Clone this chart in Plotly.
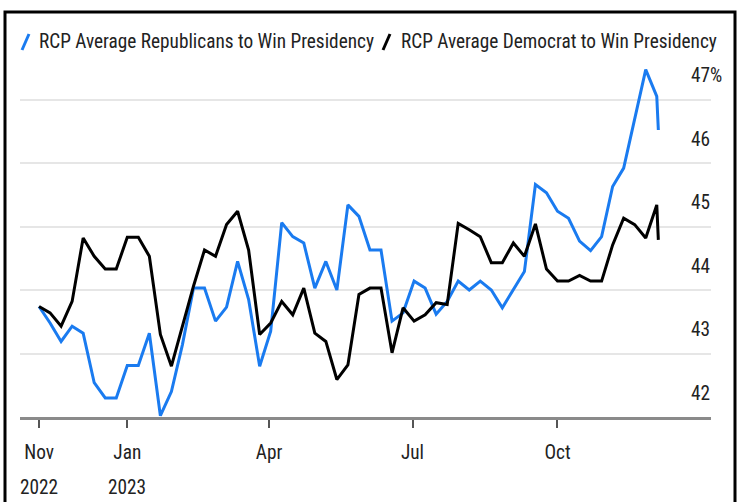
import pandas as pd
import plotly.graph_objects as go

# ---------------- data ----------------
dates = list(pd.date_range("2022-11-06", periods=57, freq="7D")) + [pd.Timestamp("2023-12-04")]

rep = [43.74, 43.48, 43.19, 43.43, 43.32, 42.54, 42.30, 42.30, 42.81, 42.81,
       43.32, 42.02, 42.40, 43.14, 44.03, 44.03, 43.51, 43.73, 44.45, 43.85,
       42.80, 43.35, 45.06, 44.84, 44.74, 44.03, 44.45, 44.00, 45.34, 45.16,
       44.63, 44.63, 43.51, 43.64, 44.14, 44.03, 43.62, 43.82, 44.14, 44.00,
       44.14, 44.00, 43.72, 44.00, 44.29, 45.66, 45.53, 45.24, 45.13, 44.77,
       44.62, 44.84, 45.63, 45.92, 46.68, 47.47, 47.05, 46.52]

dem = [43.74, 43.64, 43.43, 43.82, 44.82, 44.53, 44.33, 44.33, 44.83, 44.83,
       44.53, 43.30, 42.80, 43.43, 44.06, 44.63, 44.53, 45.03, 45.24, 44.63,
       43.30, 43.48, 43.82, 43.61, 44.03, 43.32, 43.19, 42.59, 42.82, 43.93,
       44.03, 44.03, 43.01, 43.72, 43.51, 43.61, 43.80, 43.77, 45.05, 44.95,
       44.84, 44.43, 44.43, 44.74, 44.53, 45.04, 44.33, 44.14, 44.14, 44.23,
       44.14, 44.14, 44.71, 45.13, 45.03, 44.82, 45.34, 44.79]

series_names = ["RCP Average Republicans to Win Presidency",
                "RCP Average Democrat to Win Presidency"]
series_colors = ["#1a7bf0", "#000000"]

x_tick_vals = ["2022-11-06", "2023-01-01", "2023-04-01", "2023-07-01", "2023-10-01"]
x_tick_text = ["Nov", "Jan", "Apr", "Jul", "Oct"]
year_tick_vals = ["2022-11-06", "2023-01-01"]
year_tick_text = ["2022", "2023"]

y_tick_vals = [42, 43, 44, 45, 46, 47]
y_tick_text = ["42", "43", "44", "45", "46", "47%"]

# ---------------- layout helpers ----------------
FW, FH = 738, 502
L, R, T, B = 20, 27, 60, 85
W, H = FW - L - R, FH - T - B
FONT = "Liberation Sans Narrow, Arial Narrow, Roboto Condensed, Roboto, sans-serif"
FS = 19.3
TXT = "#222222"


def px(x):
    return (x - L) / W


def py(y):
    return 1 - (y - T) / H


fig = go.Figure()
for vals, name, col in [(rep, series_names[0], series_colors[0]),
                        (dem, series_names[1], series_colors[1])]:
    fig.add_trace(go.Scatter(x=dates, y=vals, mode="lines", name=name,
                             line=dict(color=col, width=3), showlegend=False))

# custom legend (slash marks + text)
legend_pos = [(22, 37), (383, 399)]
for (sx, tx), name, col in zip(legend_pos, series_names, series_colors):
    fig.add_shape(type="line", xref="paper", yref="paper",
                  x0=px(sx), y0=py(50), x1=px(sx + 7), y1=py(34),
                  line=dict(color=col, width=3))
    fig.add_annotation(xref="paper", yref="paper", x=px(tx), y=py(42),
                       text=name, showarrow=False, xanchor="left", yanchor="middle",
                       font=dict(family=FONT, size=FS, color=TXT))

# year labels under the month ticks
for xv, yt in zip(year_tick_vals, year_tick_text):
    fig.add_annotation(xref="x", yref="paper", x=xv, y=py(487), text=yt,
                       showarrow=False, xanchor="center", yanchor="middle",
                       font=dict(family=FONT, size=FS, color=TXT))

# outer frame
fig.add_shape(type="rect", xref="paper", yref="paper",
              x0=px(5), y0=py(12), x1=px(735), y1=py(520),
              line=dict(color="black", width=3), layer="above")

fig.update_layout(
    width=FW, height=FH,
    margin=dict(l=L, r=R, t=T, b=B),
    paper_bgcolor="white", plot_bgcolor="white",
    showlegend=False,
    font=dict(family=FONT, size=FS, color=TXT),
    xaxis=dict(
        type="date",
        range=["2022-10-24 22:00", "2024-01-06 10:00"],
        tickvals=x_tick_vals, ticktext=x_tick_text,
        showgrid=False, zeroline=False,
        showline=True, linecolor="#8a8a8a", linewidth=3,
        ticks="outside", ticklen=8, tickwidth=1.5, tickcolor="#555555",
        ticklabelstandoff=8,
        tickfont=dict(family=FONT, size=FS, color=TXT),
    ),
    yaxis=dict(
        range=[42, 42 + H / 63.5],
        tickvals=y_tick_vals, ticktext=y_tick_text,
        side="right", anchor="free", position=px(687),
        showgrid=True, gridcolor="#e6e6e6", gridwidth=1.5,
        zeroline=False, showline=False, ticks="",
        ticklabelshift=-24, ticklabelstandoff=3,
        tickfont=dict(family=FONT, size=FS, color=TXT),
    ),
)

fig.write_html("out.html")
